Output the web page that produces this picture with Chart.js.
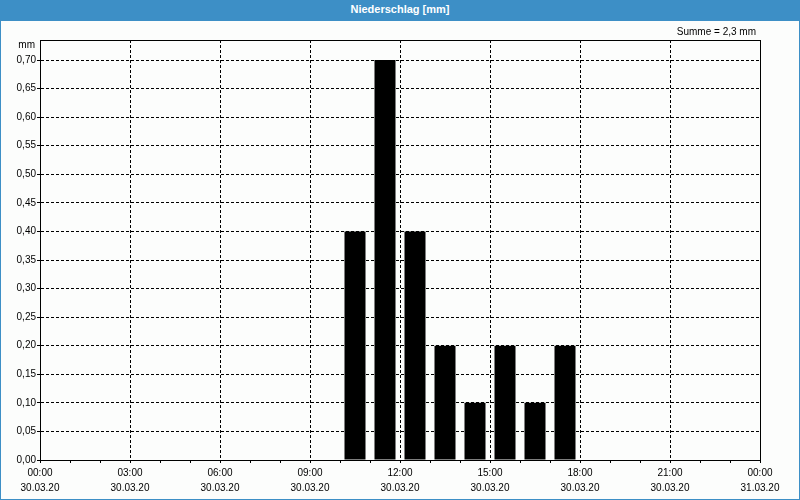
<!DOCTYPE html>
<html>
<head>
<meta charset="utf-8">
<script src="https://cdn.jsdelivr.net/npm/chart.js@4"></script>
<style>
  html, body { margin: 0; padding: 0; background: #fff; }
  #frame { width: 800px; height: 500px; box-sizing: border-box; border: 1px solid #3d8fc6; border-top: none; background: #fcfdfc; }
  #head { height: 21px; background: #3d8fc6; color: #fff; font: bold 11px "Liberation Sans", Arial, sans-serif; text-align: center; line-height: 19px; }
  #wrap { position: relative; width: 798px; height: 478px; }
</style>
</head>
<body>
<div id="frame">
  <div id="head">Niederschlag [mm]</div>
  <div id="wrap"><canvas id="rainChart"></canvas></div>
</div>
<script>
// hourly precipitation, 30.03.20 (hour of day -> mm)
var hours = [10, 11, 12, 13, 14, 15, 16, 17];
var rain = [0.4, 0.7, 0.4, 0.2, 0.1, 0.2, 0.1, 0.2];
var xTickTimes = ["00:00", "03:00", "06:00", "09:00", "12:00", "15:00", "18:00", "21:00", "00:00"];
var xTickDates = ["30.03.20", "30.03.20", "30.03.20", "30.03.20", "30.03.20", "30.03.20", "30.03.20", "30.03.20", "31.03.20"];

var font = "Liberation Sans, Arial, sans-serif";

var points = [];
for (i = 0; i < hours.length; i++) {
  points.push({ x: hours[i] + 0.5, y: rain[i] });
}

var total = 0;
rain.forEach((v) => { total += v; });

// frame around the plot plus the small texts ("mm", Summe)
var extras = {
  id: 'extras',
  afterDraw: function(chart) {
    var ctx = chart.ctx;
    var a = chart.chartArea;
    ctx.save();
    ctx.strokeStyle = '#000';
    ctx.lineWidth = 1;
    ctx.strokeRect(Math.round(a.left) + 0.5, Math.round(a.top) + 0.5, Math.round(a.right - a.left), Math.round(a.bottom - a.top));
    ctx.fillStyle = '#000';
    ctx.font = '10px ' + font;
    ctx.textAlign = 'right';
    ctx.textBaseline = 'middle';
    ctx.fillText('mm', a.left - 5, a.top + 5);
    ctx.fillText('Summe = ' + total.toFixed(1).replace('.', ',') + ' mm', a.right - 4, a.top - 8);
    ctx.restore();
  }
};

let myChart = document.getElementById('rainChart');

let myBarChart = new Chart(myChart, {
  type: 'bar',
  data: {
    datasets: [
      {
        data: points,
        backgroundColor: '#000',
        borderWidth: 0,
        barPercentage: 0.7,
        categoryPercentage: 1.0
      }
    ]
  },
  options: {
    responsive: true,
    maintainAspectRatio: false,
    animation: false,
    layout: { padding: { left: 0, right: 39, top: 19, bottom: 0 } },
    plugins: { legend: { display: false }, tooltip: { enabled: false } },
    scales: {
      x: {
        type: 'linear',
        min: 0,
        max: 24,
        offset: false,
        afterFit: function(s) { s.height = 39; },
        ticks: {
          stepSize: 1,
          autoSkip: false,
          maxRotation: 0,
          padding: 2,
          color: '#000',
          font: { family: font, size: 10, lineHeight: 1.55 },
          callback: function(v) {
            if (v % 3 !== 0) return '';
            return [xTickTimes[v / 3], xTickDates[v / 3]];
          }
        },
        grid: {
          offset: false,
          color: function(c) {
            var v = c.tick ? c.tick.value : 0;
            return (v % 3 === 0 && v > 0 && v < 24) ? '#000' : 'rgba(0,0,0,0)';
          },
          tickColor: '#000',
          tickLength: 3,
          tickBorderDash: []
        },
        border: { color: '#000', width: 1, dash: [3, 2] }
      },
      y: {
        min: 0,
        max: 0.735,
        afterFit: function(s) { s.width = 39; },
        afterBuildTicks: function(s) {
          s.ticks = s.ticks.filter((t) => t.value <= 0.7001);
        },
        ticks: {
          stepSize: 0.05,
          padding: 1,
          color: '#000',
          font: { family: font, size: 10 },
          callback: function(v) { return v.toFixed(2).replace('.', ','); }
        },
        grid: {
          color: function(c) {
            var v = c.tick ? c.tick.value : 0;
            return v > 0.001 ? '#000' : 'rgba(0,0,0,0)';
          },
          tickColor: '#000',
          tickLength: 3,
          tickBorderDash: [3, 2]
        },
        border: { color: '#000', width: 1, dash: [3, 2] }
      }
    }
  },
  plugins: [extras]
});
</script>
</body>
</html>
